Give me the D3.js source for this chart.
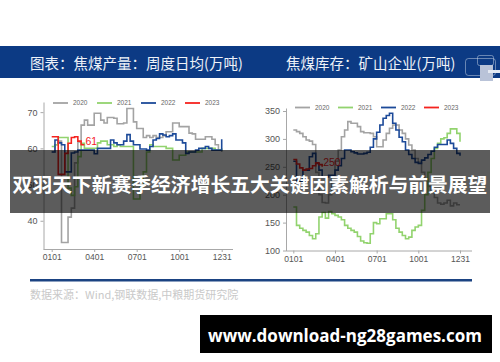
<!DOCTYPE html>
<html><head><meta charset="utf-8">
<script src="https://cdn.jsdelivr.net/npm/d3@7/dist/d3.min.js"></script>
<style>html,body{margin:0;padding:0;background:#fff;}svg{display:block;}</style>
</head><body>
<script>
// ---------- data ----------
const years = ["2020", "2021", "2022", "2023"];
const yearColors = ["#a3a3a3", "#92d36e", "#1c4a99", "#f5231f"];
const xTickLabels = ["0101", "0401", "0701", "1001", "1231"];
const xTickWeeks = [0, 13, 26, 39, 52];
const prodTicks = [40, 50, 60, 70];
const stockTicks = [100, 150, 200, 250, 300, 350];

// coking coal output, weekly daily average (10k t)
const prod2020 = [59, 61, 62, 34, 34, 41, 43.5, 56, 61.8, 66.4, 67.8, 66.4, 66.4, 69.7, 69.7, 67.8, 67, 68.5, 68.5, 68.3, 66.8, 66.8, 67, 71, 71, 67.3, 65.5, 65.5, 63, 63.5, 63, 63.5, 63, 63, 63.5, 64.6, 64.6, 67, 67, 66, 66, 66, 64.2, 64, 62.5, 62.5, 62.5, 63.2, 63.2, 62.5, 61, 59.5, 59];
const prod2021 = [60.5, 61, 63, 63, 63, 49, 47, 49.4, 57.7, 61.4, 60, 60, 60, 60, 61.5, 62, 62, 61, 61, 60.5, 61, 60.5, 60.5, 60.5, 60.5, 46, 46, 49.5, 53.5, 59, 61, 60.5, 60.5, 60.5, 60.5, 60, 60, 56.8, 56.8, 58.1, 58.1, 59, 59, 59, 59, 59, 60, 60, 60, 60, 59.5, 59.5, 60];
const prod2022 = [59, 62.3, 61.5, 61, 53.5, 53.5, 58.7, 59, 59.5, 59.5, 59.5, 59.5, 59.5, 58.5, 60, 60, 60, 60, 62.3, 61.5, 61, 61, 62, 63.8, 62, 61, 61, 59.8, 59.8, 59.5, 60.5, 62.3, 62.7, 64, 63.7, 63.2, 63.5, 64, 62.3, 62.3, 61.5, 58.6, 59, 59, 59.5, 60, 60, 60.5, 60, 59.5, 59.5, 59.5, 62.5];
const prod2023 = [63.2, 63.2, 52.8, 52.8, 58.6, 61.4, 63, 63.2, 62, 61, 61];

// coking coal inventory at mines (10k t)
const stock2020 = [316, 313, 310, 304, 298, 296, 290, 240, 200, 186, 185, 200, 230, 260, 280, 304, 316, 331, 328, 328, 322, 313, 311, 311, 310, 304, 286, 286, 298, 310, 319, 325, 325, 316, 310, 300, 289, 280, 265, 258, 240, 225, 215, 205, 195, 185, 183, 185, 190, 180, 185, 182, 182];
const stock2021 = [178, 145, 140, 136, 133, 127, 121, 130, 160, 168, 158, 170, 166, 163, 160, 155, 145, 140, 136, 133, 125, 117, 114, 113, 130, 150, 148, 157, 157, 166, 166, 155, 140, 133, 127, 121, 124, 136, 142, 145, 172, 200, 240, 265, 283, 292, 300, 302, 310, 318, 318, 310, 295];
const stock2022 = [260, 224, 224, 244, 244, 268, 274, 256, 244, 232, 232, 235, 235, 244, 252, 265, 280, 280, 277, 275, 273, 273, 274, 276, 285, 300, 312, 325, 337, 342, 346, 328, 316, 303, 295, 280, 272, 265, 258, 256, 262, 266, 272, 278, 285, 290, 290, 290, 298, 292, 283, 274, 270];
const stock2023 = [263, 255, 248, 244, 246, 247, 252, 257, 254, 250];

const titleLeft = "图表：焦煤产量：周度日均(万吨)";
const titleRight = "焦煤库存：矿山企业(万吨)";
const sourceText = "数据来源：Wind,钢联数据,中粮期货研究院";
const bannerText = "双羽天下新赛季经济增长五大关键因素解析与前景展望";
const siteText = "www.download-ng28games.com";

// ---------- drawing ----------
const W = 500, H = 362;
const svg = d3.select("body").append("svg").attr("width", W).attr("height", H);
svg.append("rect").attr("width", W).attr("height", H).attr("fill", "#fff");

// header band
svg.append("rect").attr("x", 0).attr("y", 46).attr("width", W).attr("height", 32).attr("fill", "#0c3a84");
svg.append("text").attr("x", 30).attr("y", 68.5).text(titleLeft)
  .attr("font-family", "Noto Sans CJK SC").attr("font-size", 14.5).attr("fill", "#eef2f8");
svg.append("text").attr("x", 286).attr("y", 68.5).text(titleRight)
  .attr("font-family", "Noto Sans CJK SC").attr("font-size", 14.5).attr("fill", "#eef2f8");
// logo
const logo = svg.append("g");
logo.append("rect").attr("x", 465.5).attr("y", 58.5).attr("width", 30).attr("height", 17).attr("rx", 3)
  .attr("fill", "none").attr("stroke", "rgba(220,228,240,0.45)");
logo.append("rect").attr("x", 477.5).attr("y", 55.5).attr("width", 16).attr("height", 10).attr("rx", 2)
  .attr("fill", "none").attr("stroke", "rgba(220,228,240,0.45)");
logo.append("rect").attr("x", 480).attr("y", 65).attr("width", 13).attr("height", 16).attr("fill", "#b9c3d8");
logo.append("rect").attr("x", 488).attr("y", 70).attr("width", 12).attr("height", 3).attr("fill", "#e4e9f2");

function panel(cfg) {
  const g = svg.append("g");
  const x = d3.scaleLinear().domain([0, 52]).range(cfg.xr);
  const y = d3.scaleLinear().domain(cfg.yd).range(cfg.yr);
  // axes
  const ya = g.append("g").attr("transform", `translate(${cfg.ax},0)`)
    .call(d3.axisLeft(y).tickValues(cfg.yticks).tickSize(3).tickPadding(3).tickSizeOuter(0));
  ya.select(".domain").attr("stroke", "#a8a8a8");
  ya.selectAll(".tick line").attr("stroke", "#a8a8a8");
  ya.selectAll("text").attr("font-family", "Liberation Sans").attr("font-size", 9).attr("fill", "#555");
  const xa = g.append("g").attr("transform", `translate(0,${cfg.yr[0]})`)
    .call(d3.axisBottom(x).tickValues(xTickWeeks).tickFormat((d, i) => xTickLabels[i]).tickSize(3).tickPadding(2));
  xa.select(".domain").remove();
  xa.selectAll(".tick line").attr("stroke", "#a8a8a8");
  xa.selectAll("text").attr("font-family", "Liberation Sans").attr("font-size", 8.5).attr("fill", "#555");
  g.append("line").attr("x1", cfg.ax).attr("x2", cfg.axEnd).attr("y1", cfg.yr[0] + 0.5).attr("y2", cfg.yr[0] + 0.5)
    .attr("stroke", "#a8a8a8");
  // lines
  const line = d3.line().x((d, i) => x(i)).y(d => y(d)).curve(d3.curveStepAfter);
  cfg.series.forEach((s, k) => {
    g.append("path").datum(s).attr("d", line).attr("fill", "none")
      .attr("stroke", yearColors[k]).attr("stroke-width", 1.6);
  });
  const last = cfg.series[3];
  g.append("text").attr("x", x(last.length - 1) + 1).attr("y", y(last[last.length - 1]) + (cfg.labelDy))
    .text(String(last[last.length - 1])).attr("font-family", "Liberation Sans").attr("font-size", 10.5)
    .attr("fill", yearColors[3]);
  // legend
  const lg = g.append("g");
  years.forEach((yr, k) => {
    const lx = cfg.legX + k * cfg.legStep;
    lg.append("line").attr("x1", lx).attr("x2", lx + 15).attr("y1", cfg.legY).attr("y2", cfg.legY)
      .attr("stroke", yearColors[k]).attr("stroke-width", 1.8);
    lg.append("text").attr("x", lx + 20).attr("y", cfg.legY + 2.3).text(yr)
      .attr("font-family", "Liberation Sans").attr("font-size", 6.5).attr("fill", "#666");
  });
}

panel({
  xr: [51.7, 221.7], yd: [32.2, 72.8], yr: [249, 102], ax: 43.5, axEnd: 233,
  yticks: prodTicks, series: [prod2020, prod2021, prod2022, prod2023],
  labelDy: 0, legX: 53, legStep: 44, legY: 103
});
panel({
  xr: [293.3, 460], yd: [100, 355.4], yr: [250.5, 108], ax: 286, axEnd: 472,
  yticks: stockTicks, series: [stock2020, stock2021, stock2022, stock2023],
  labelDy: -1, legX: 295, legStep: 43, legY: 107.5
});

// separator and source
svg.append("rect").attr("x", 30).attr("y", 279).attr("width", 442).attr("height", 2.5).attr("fill", "#1b4382");
svg.append("text").attr("x", 30).attr("y", 299).text(sourceText)
  .attr("font-family", "Noto Sans CJK SC").attr("font-size", 11).attr("fill", "#c9c9c9");

// overlay banner
svg.append("rect").attr("x", 10).attr("y", 150).attr("width", 480).attr("height", 63).attr("fill", "rgba(0,0,0,0.64)");
svg.append("text").attr("x", 250).attr("y", 192).attr("text-anchor", "middle").text(bannerText)
  .attr("font-family", "Noto Sans CJK SC").attr("font-weight", "bold").attr("font-size", 19.8).attr("fill", "#fff");

// site watermark
svg.append("rect").attr("x", 200).attr("y", 315).attr("width", 292).attr("height", 38).attr("fill", "#000");
svg.append("text").attr("x", 345).attr("y", 341.5).attr("text-anchor", "middle").text(siteText)
  .attr("font-family", "Open Sans").attr("font-weight", "bold").attr("font-size", 17).attr("fill", "#fff");
</script>
</body></html>
